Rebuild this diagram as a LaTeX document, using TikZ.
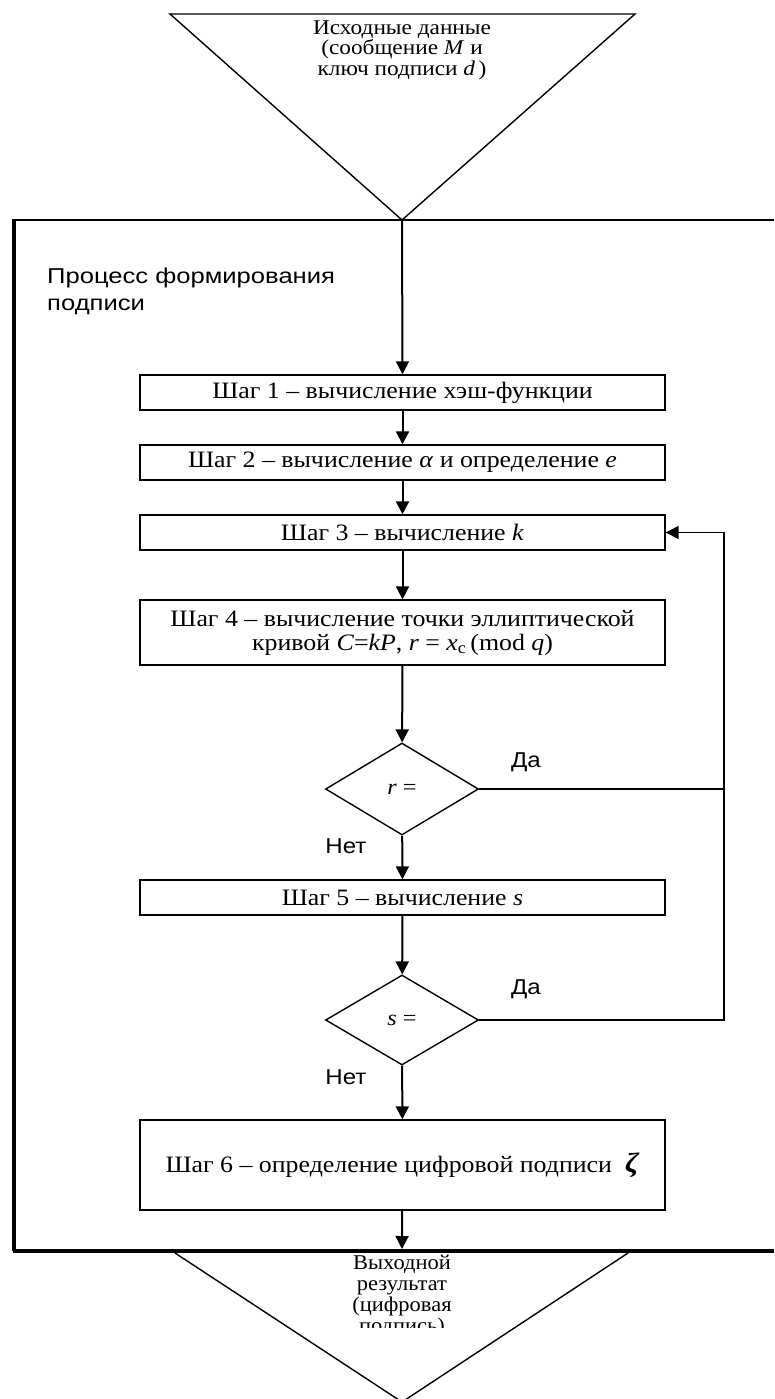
\documentclass[tikz,border=0pt]{standalone}
\usepackage{fontspec}
\setmainfont{Liberation Serif}
\setsansfont{Liberation Sans}
\newfontfamily\boxfont[FakeStretch=1.1]{Liberation Serif}
\newfontfamily\topfont[FakeStretch=1.11]{Liberation Serif}
\newfontfamily\botfont[FakeStretch=1.07]{Liberation Serif}
\newfontfamily\lblfont[FakeStretch=1.12]{Liberation Sans}
\newfontfamily\titlefont[FakeStretch=1.19]{Liberation Sans}
\usetikzlibrary{arrows.meta,shapes.geometric}
\tikzset{
  stepbox/.style={draw=black,line width=1.4pt,minimum width=525pt,inner sep=0pt,align=center,font=\boxfont\fontsize{23.5}{24}\selectfont},
  decide/.style={draw=black,line width=1.4pt,diamond,inner sep=0pt,minimum width=153pt,minimum height=92pt,font=\boxfont\fontsize{22}{22}\selectfont},
  flow/.style={line width=2pt,-{Triangle[length=13pt,width=13pt]}},
  plain/.style={line width=1.5pt},
  lbl/.style={font=\lblfont\fontsize{21.5}{24}\selectfont,inner sep=0pt},
  tri/.style={draw=black,line width=1.4pt}
}
\begin{document}
\begin{tikzpicture}[x=1pt,y=-1pt]
\useasboundingbox (0,0) rectangle (774,1399);
% input triangle
\draw[tri] (170,14) -- (635,14) -- (402,220) -- cycle;
\coordinate (inApex) at (402,220);
\node[align=center,inner sep=0pt,font=\topfont\fontsize{21}{20.5}\selectfont] (intext) at (402,50)
  {Исходные данные\\(сообщение \textit{M} и\\ключ подписи \textit{d}\,)};
% process frame
\draw[line width=2.6pt] (774,220) -- (14,220);
\draw[line width=3.5pt] (14,219) -- (14,1251);
\draw[line width=4.5pt] (12.5,1251) -- (774,1251);
\node[anchor=north west,align=left,inner sep=0pt,font=\titlefont\fontsize{21.5}{27}\selectfont] (title) at (47,268)
  {Процесс формирования\\подписи};
% steps
\node[stepbox,minimum height=35pt] (s1) at (402.5,392.5) {Шаг 1 – вычисление хэш-функции};
\node[stepbox,minimum height=35pt] (s2) at (402.5,462.5) {Шаг 2 – вычисление \textit{α} и определение \textit{e}};
\node[stepbox,minimum height=35pt] (s3) at (402.5,532.5) {Шаг 3 – вычисление \textit{k}};
\node[stepbox,minimum height=65pt] (s4) at (402.5,632.5)
  {Шаг 4 – вычисление точки эллиптической\\кривой \textit{C}=\textit{kP}, \textit{r} = \textit{x}\textsubscript{c}\,(mod \textit{q})};
\node[decide] (d1) at (402,789) {\textit{r} =};
\node[stepbox,minimum height=35pt] (s5) at (402.5,897.5) {Шаг 5 – вычисление \textit{s}};
\node[decide,minimum height=90pt] (d2) at (402,1020) {\textit{s} =};
\node[stepbox,minimum height=90pt] (s6) at (402.5,1165) {Шаг 6 – определение цифровой подписи \;{\fontsize{28}{28}\selectfont\textbf{\textit{ζ}}}};
% labels
\node[lbl] (yes1) at (526,762) {Да};
\node[lbl] (no1) at (346,846) {Нет};
\node[lbl] (yes2) at (526,989) {Да};
\node[lbl] (no2) at (346,1077) {Нет};
% connectors
\draw[flow] (inApex) -- (s1.north);
\draw[flow] (s1) -- (s2);
\draw[flow] (s2) -- (s3);
\draw[flow] (s3) -- (s4);
\draw[flow] (s4) -- (d1);
\draw[flow] (d1) -- (s5);
\draw[flow] (s5) -- (d2);
\draw[flow] (d2) -- (s6);
\coordinate (outTop) at (402,1249);
\draw[flow] (s6) -- (outTop);
\coordinate (loopA) at (724,789);
\coordinate (loopB) at (724,1020);
\coordinate (loopC) at (724,532.5);
\draw[plain] (d1.east) -- (loopA);
\draw[line width=1.5pt,-{Triangle[length=13pt,width=13pt]}] (d2.east) -- (loopB) -- (loopC) -- (s3.east);
% output triangle
\draw[tri] (175,1253) -- (402,1402) -- (628,1253);
\begin{scope}
\clip (300,1254) rectangle (500,1327);
\node[align=center,inner sep=0pt,font=\botfont\fontsize{21}{21}\selectfont,anchor=north] (outtext) at (402,1255)
  {Выходной\\результат\\(цифровая\\подпись)};
\end{scope}
\end{tikzpicture}
\end{document}
